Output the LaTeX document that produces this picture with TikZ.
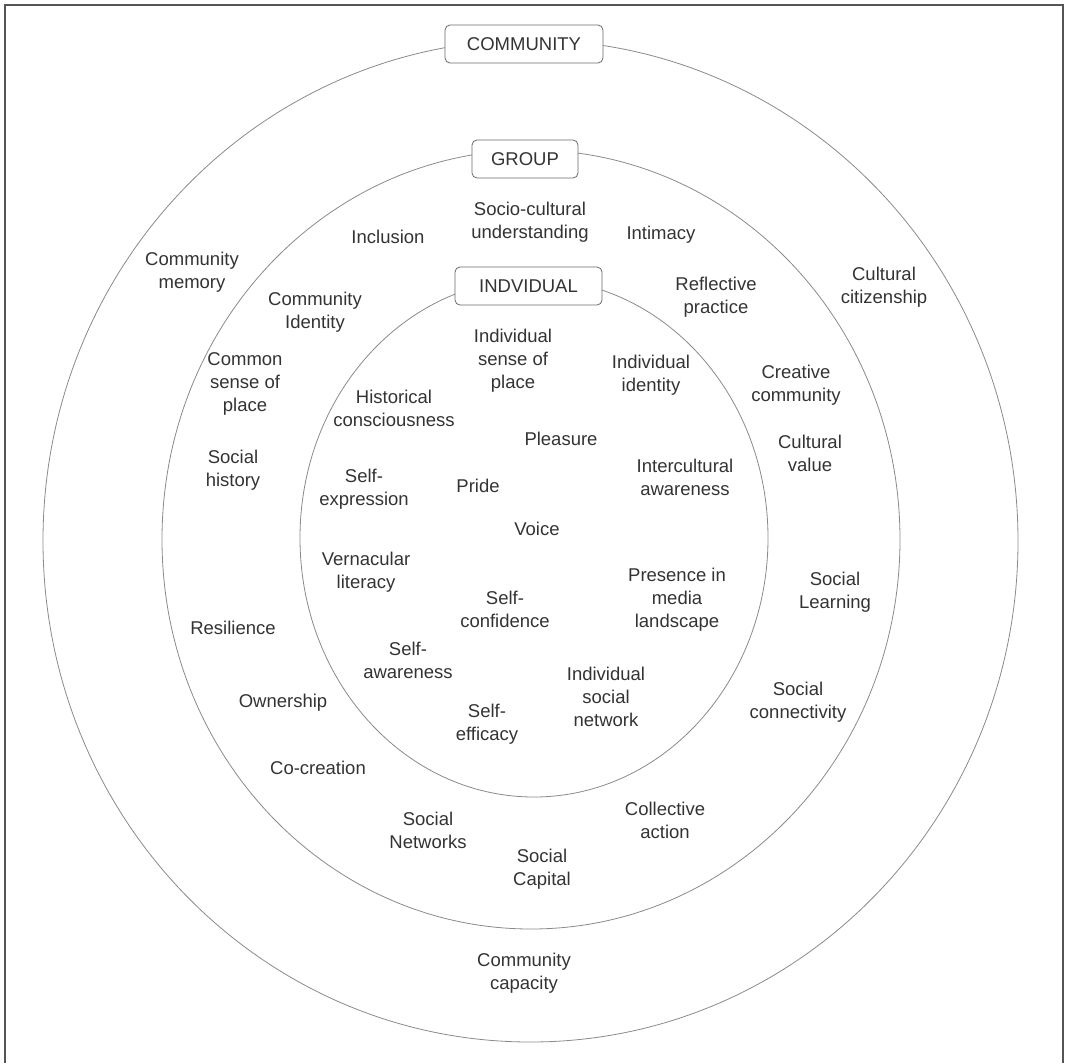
\documentclass[tikz,border=0pt]{standalone}
\usepackage{fontspec}
\setmainfont{Liberation Sans}
\definecolor{txt}{HTML}{333333}
\definecolor{ringc}{HTML}{8A8A8A}
\definecolor{boxc}{HTML}{6A6A6A}
\definecolor{framec}{HTML}{555555}
\begin{document}
\begin{tikzpicture}[x=1pt,y=-1pt,
  lbl/.style={align=center, text=txt, font=\fontsize{18.5}{23}\selectfont, inner sep=0pt},
  ring/.style={draw=ringc, line width=0.8pt},
  tag/.style={draw=boxc, fill=white, rounded corners=5pt, line width=0.8pt, text=txt,
    font=\fontsize{18.5}{23}\selectfont, minimum height=38pt, inner xsep=0pt}]
\useasboundingbox (0,0) rectangle (1065,1063);
\draw[line width=1.6pt, draw=framec] (5,1063) -- (5,5) -- (1063,5) -- (1063,1063);
% rings
\draw[ring] (530.5,541) ellipse [x radius=487.5pt, y radius=501pt];
\draw[ring] (531,539.5) ellipse [x radius=369pt, y radius=389.5pt];
\draw[ring] (534,538) ellipse [x radius=234pt, y radius=259pt];
% tags
\node[tag, minimum width=158pt] (community) at (524,44) {COMMUNITY};
\node[tag, minimum width=106pt] (group) at (525,159) {GROUP};
\node[tag, minimum width=147pt] (individual) at (528.5,286) {INDVIDUAL};
% community ring
\node[lbl] (cmem) at (192,272) {Community\\memory};
\node[lbl] (ccit) at (884,287) {Cultural\\citizenship};
\node[lbl] (ccap) at (524,973) {Community\\capacity};
% group ring
\node[lbl] (incl) at (388,237) {Inclusion};
\node[lbl] (socu) at (530,222) {Socio-cultural\\understanding};
\node[lbl] (intim) at (661,235) {Intimacy};
\node[lbl] (cid) at (315,312) {Community\\Identity};
\node[lbl] (refl) at (716,297) {Reflective\\practice};
\node[lbl] (csp) at (245,384) {Common\\sense of\\place};
\node[lbl] (crc) at (796,385) {Creative\\community};
\node[lbl] (cval) at (810,453) {Cultural\\value};
\node[lbl] (shist) at (233,470) {Social\\history};
\node[lbl] (slearn) at (835,592) {Social\\Learning};
\node[lbl] (resil) at (233,628) {Resilience};
\node[lbl] (own) at (283,703) {Ownership};
\node[lbl] (sconn) at (798,702) {Social\\connectivity};
\node[lbl] (cocr) at (318,768) {Co-creation};
\node[lbl] (snet) at (428,830) {Social\\Networks};
\node[lbl] (coll) at (665,820) {Collective\\action};
\node[lbl] (scap) at (542,869) {Social\\Capital};
% individual ring
\node[lbl] (isp) at (513,361) {Individual\\sense of\\place};
\node[lbl] (iid) at (651,375) {Individual\\identity};
\node[lbl] (hist) at (394,408) {Historical\\consciousness};
\node[lbl] (pleas) at (561,439) {Pleasure};
\node[lbl] (inter) at (685,477) {Intercultural\\awareness};
\node[lbl] (sexp) at (364,489) {Self-\\expression};
\node[lbl] (pride) at (478,486) {Pride};
\node[lbl] (voice) at (537,529) {Voice};
\node[lbl] (vern) at (366,572) {Vernacular\\literacy};
\node[lbl] (pres) at (677,600) {Presence in\\media\\landscape};
\node[lbl] (sconf) at (505,609) {Self-\\confidence};
\node[lbl] (saw) at (408,660) {Self-\\awareness};
\node[lbl] (isn) at (606,697) {Individual\\social\\network};
\node[lbl] (seff) at (487,724) {Self-\\efficacy};
\end{tikzpicture}
\end{document}
